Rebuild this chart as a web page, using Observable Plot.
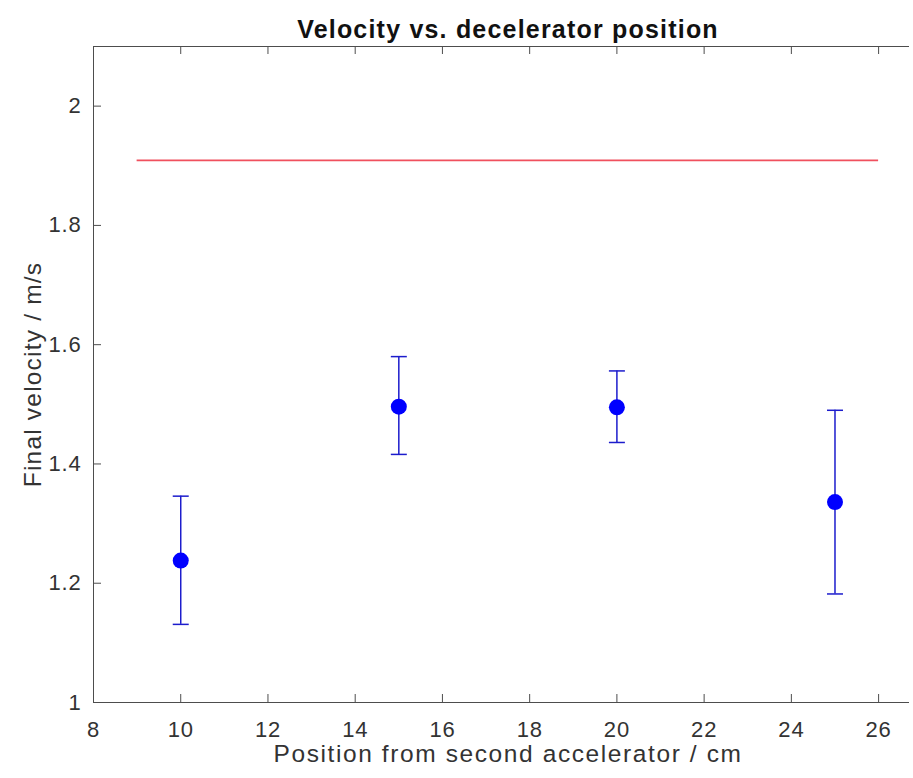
<!DOCTYPE html>
<html><head><meta charset="utf-8">
<script src="https://cdn.jsdelivr.net/npm/d3@7"></script>
<script src="https://cdn.jsdelivr.net/npm/@observablehq/plot@0.6"></script>
<style>html,body{margin:0;padding:0;background:#fff;overflow:hidden} #chart{width:909px;overflow:hidden} #chart svg{display:block;max-width:none}</style>
</head><body><div id="chart"></div>
<script>
const positions = [10, 15, 20, 25];
const velocity = [1.238, 1.496, 1.495, 1.336];
const upperError = [1.346, 1.580, 1.556, 1.490];
const lowerError = [1.131, 1.416, 1.436, 1.182];
const expectedVelocity = [1.909];
const expectedRange = [9, 26];
const xTicks = [8, 10, 12, 14, 16, 18, 20, 22, 24, 26];
const yTicks = [1, 1.2, 1.4, 1.6, 1.8, 2];
const xDomain = [8, 26.8];
const yDomain = [1, 2.1];
const title = "Velocity vs. decelerator position";
const xLabel = "Position from second accelerator / cm";
const yLabel = "Final velocity / m/s";

const data = positions.map((x, i) => ({x, v: velocity[i], hi: upperError[i], lo: lowerError[i]}));
const W = 913, H = 778, mL = 93, mR = 0, mT = 46, mB = 76;
const innerW = W - mL - mR, innerH = H - mT - mB;
const cap = {draw(ctx, size) { const r = Math.sqrt(size / Math.PI); ctx.moveTo(-r, 0); ctx.lineTo(r, 0); }};
const axisColor = "#4d4d4d";
const textColor = "#333";
const barColor = "#1c1ccc";
const chart = Plot.plot({
  width: W, height: H, marginLeft: mL, marginRight: mR, marginTop: mT, marginBottom: mB,
  style: {fontFamily: "'Liberation Sans', Arial, sans-serif", background: "#fff", overflow: "hidden"},
  x: {domain: xDomain},
  y: {domain: yDomain},
  marks: [
    Plot.ruleX([xDomain[0]], {x: d => d, stroke: axisColor}),
    Plot.ruleY(yDomain, {y: d => d, stroke: axisColor}),
    Plot.tickX(xTicks, {x: d => d, insetTop: innerH - 8, stroke: axisColor}),
    Plot.tickX(xTicks, {x: d => d, insetBottom: innerH - 8, stroke: axisColor}),
    Plot.tickY(yTicks, {y: d => d, insetRight: innerW - 8, stroke: axisColor}),
    Plot.axisX(xTicks, {tickSize: 0, tickPadding: 19, fontSize: 22, fill: textColor, stroke: axisColor, label: null}),
    Plot.axisY(yTicks, {tickSize: 0, tickPadding: 12, fontSize: 22, fill: textColor, stroke: axisColor, label: null, tickFormat: d => String(d)}),
    Plot.ruleY(expectedVelocity, {y: d => d, x1: expectedRange[0], x2: expectedRange[1], stroke: "#f0505e", strokeWidth: 1.8}),
    Plot.ruleX(data, {x: "x", y1: "lo", y2: "hi", stroke: barColor, strokeWidth: 1.5}),
    Plot.dot(data, {x: "x", y: "hi", symbol: cap, r: 8, stroke: barColor, strokeWidth: 1.5}),
    Plot.dot(data, {x: "x", y: "lo", symbol: cap, r: 8, stroke: barColor, strokeWidth: 1.5}),
    Plot.dot(data, {x: "x", y: "v", r: 8, fill: "#0000ff"}),
    Plot.text([title], {text: d => d, frameAnchor: "top", textAnchor: "middle", lineAnchor: "bottom", dy: -9, dx: 4.5, fontSize: 25, fontWeight: "bold", fill: "#111"}),
    Plot.text([xLabel], {text: d => d, frameAnchor: "bottom", textAnchor: "middle", lineAnchor: "bottom", dy: 59, dx: 4.5, fontSize: 24.5, fill: textColor}),
    Plot.text([yLabel], {text: d => d, frameAnchor: "left", textAnchor: "middle", lineAnchor: "bottom", rotate: -90, dx: -53, fontSize: 24.5, fill: textColor})
  ]
});
const spacing = new Map([[title, "1.2px"], [xLabel, "1.6px"], [yLabel, "1.2px"]]);
chart.querySelectorAll("text").forEach(t => {
  const s = spacing.get(t.textContent);
  if (s) t.style.letterSpacing = s;
  else if (t.closest("[aria-label$='tick label']")) t.style.letterSpacing = "0.8px";
});
document.getElementById("chart").appendChild(chart);
</script>
</body></html>
